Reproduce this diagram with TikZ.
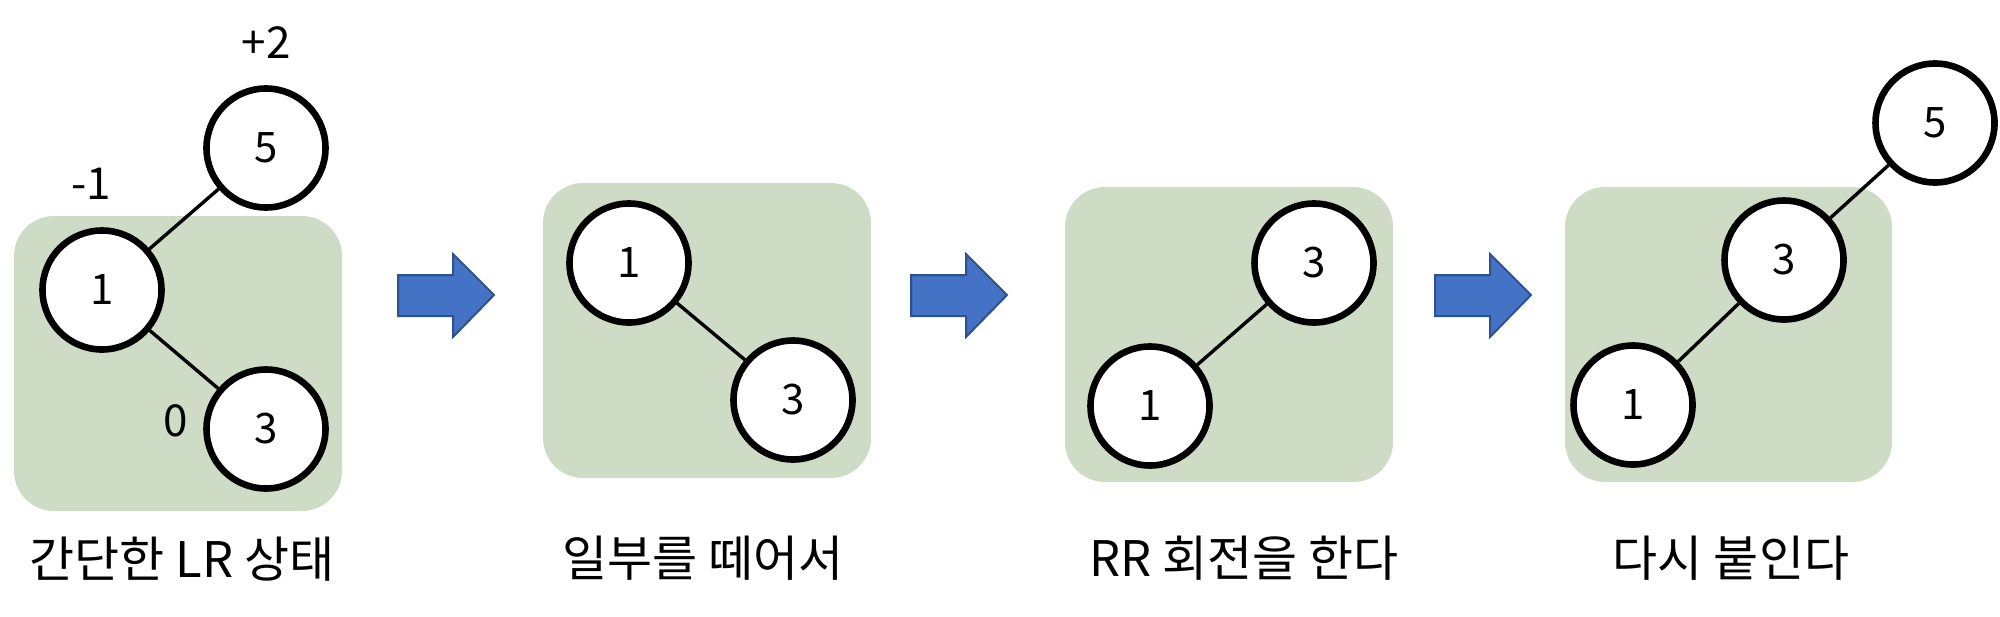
\documentclass[tikz,border=0pt]{standalone}
\usepackage{fontspec}
\setmainfont{Noto Sans CJK KR}
\definecolor{panelgreen}{RGB}{207,220,197}
\definecolor{arrowblue}{RGB}{68,114,196}
\definecolor{arrowedge}{RGB}{47,82,143}
\tikzset{
  tnode/.style={circle, draw=black, line width=3.3pt, fill=white, minimum size=59.5pt, inner sep=0pt, font=\fontsize{21}{21}\selectfont},
  edge/.style={draw=black, line width=1.7pt},
  panel/.style={fill=panelgreen, rounded corners=20pt},
  caption/.style={font=\fontsize{24.5}{24.5}\selectfont, inner sep=0pt},
  balance/.style={font=\fontsize{22}{22}\selectfont, inner sep=0pt},
  bigarrow/.style={fill=arrowblue, draw=arrowedge, line width=1pt, line join=miter}
}
\begin{document}
\begin{tikzpicture}[x=0.5pt,y=-0.5pt]
\useasboundingbox (0,0) rectangle (2000,616);
% panels
\fill[panel] (14,216) rectangle (342,511);
\fill[panel] (543,183) rectangle (871,478);
\fill[panel] (1065,187) rectangle (1393,482);
\fill[panel] (1565,187) rectangle (1892,482);
% arrows
\foreach \ax in {398,911,1435}{
  \draw[bigarrow] (\ax,275) -- ++(55,0) -- ++(0,-21) -- ++(41,41) -- ++(-41,42) -- ++(0,-21) -- ++(-55,0) -- cycle;
}
% panel 1
\node[tnode] (a5) at (266,148) {5};
\node[tnode] (a1) at (102,290) {1};
\node[tnode] (a3) at (266,429) {3};
\draw[edge] (a1) -- (a5);
\draw[edge] (a1) -- (a3);
\node[balance] (la5) at (266,43) {+2};
\node[balance] (la1) at (91,184) {-1};
\node[balance] (la3) at (176,421) {0};
\node[caption] (cap1) at (182,559) {간단한 LR 상태};
% panel 2
\node[tnode] (b1) at (629,263) {1};
\node[tnode] (b3) at (793,400) {3};
\draw[edge] (b1) -- (b3);
\node[caption] (cap2) at (703,558) {일부를 떼어서};
% panel 3
\node[tnode] (c3) at (1314,263) {3};
\node[tnode] (c1) at (1150,406) {1};
\draw[edge] (c1) -- (c3);
\node[caption] (cap3) at (1244,558) {RR 회전을 한다};
% panel 4
\node[tnode] (d5) at (1935,123) {5};
\node[tnode] (d3) at (1784,260) {3};
\node[tnode] (d1) at (1633,405) {1};
\draw[edge] (d3) -- (d5);
\draw[edge] (d1) -- (d3);
\node[caption] (cap4) at (1731,558) {다시 붙인다};
\end{tikzpicture}
\end{document}
